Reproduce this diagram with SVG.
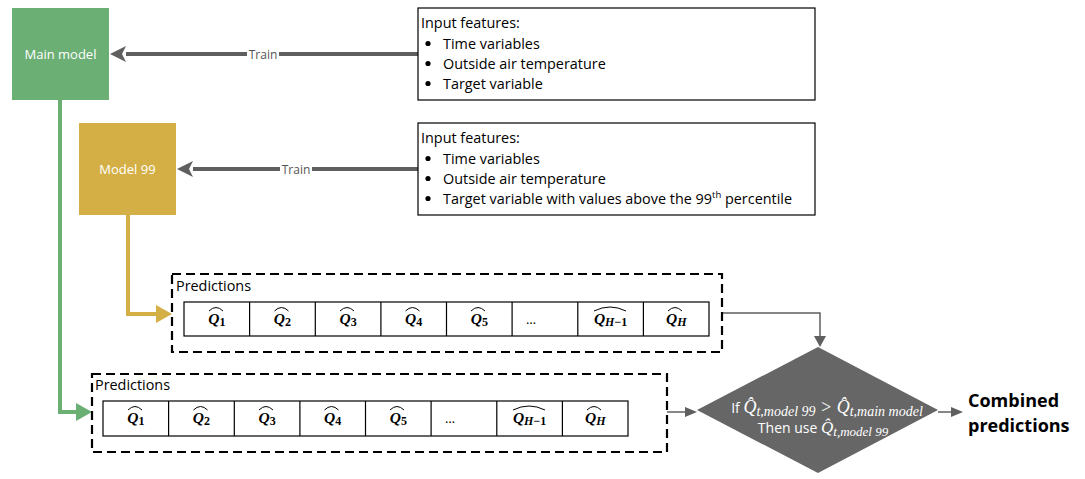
<svg xmlns="http://www.w3.org/2000/svg" width="1085" height="479" viewBox="0 0 1085 479">
<style>
.lbl{font-family:"Open Sans","Liberation Sans",sans-serif;font-size:14.4px;fill:#000}
.wt{font-family:"Open Sans","Liberation Sans",sans-serif;font-size:13px;fill:#fff}
.dt{font-family:"Open Sans","Liberation Sans",sans-serif;font-size:14px;fill:#fff}
.train{font-family:"Open Sans","Liberation Sans",sans-serif;font-size:12px;fill:#555}
.q{font-family:"Liberation Serif","DejaVu Serif",serif;font-style:italic;font-weight:bold;font-size:15.5px;fill:#000}
.qs{font-size:12px}
.dots{font-family:"Open Sans","Liberation Sans",sans-serif;font-size:13px;fill:#000}
.mq{font-family:"Liberation Serif","DejaVu Serif",serif;font-style:italic;font-size:17px;fill:#fff}
.ms{font-size:13px}
.mq1{font-family:"Liberation Serif","DejaVu Serif",serif;font-style:italic;font-size:18px;fill:#fff}
.ms1{font-size:14px}
.box{fill:#fff;stroke:#000;stroke-width:1.2}
.dash{fill:none;stroke:#000;stroke-width:2.2;stroke-dasharray:9 5}
.cell{fill:#fff;stroke:#000;stroke-width:1.2}
.hat{fill:none;stroke:#000;stroke-width:1}
.thick{fill:none;stroke:#5f5f5f;stroke-width:4}
.thin{fill:none;stroke:#5f5f5f;stroke-width:1.5}
</style>

<g id="connectors">
  <line class="thick" x1="418" y1="54" x2="126" y2="54"/>
  <polygon points="110,54 126,46 122,54 126,62" fill="#5f5f5f"/>
  <rect x="247" y="46" width="32" height="16" fill="#fff"/>
  <text class="train" x="263" y="58.5" text-anchor="middle">Train</text>

  <line class="thick" x1="418" y1="169" x2="193" y2="169"/>
  <polygon points="177,169 193,161 189,169 193,177" fill="#5f5f5f"/>
  <rect x="280" y="161" width="32" height="16" fill="#fff"/>
  <text class="train" x="296" y="173.5" text-anchor="middle">Train</text>

  <polyline points="128,215 128,314 158,314" fill="none" stroke="#d4af45" stroke-width="4"/>
  <polygon points="172,314 156,305 156,323" fill="#d4af45"/>

  <polyline points="60,100 60,412 78,412" fill="none" stroke="#6caf74" stroke-width="4"/>
  <polygon points="92,412 76,403 76,421" fill="#6caf74"/>

  <polyline class="thin" points="722,313 820,313 820,337"/>
  <polygon points="820,347 814,336 826,336" fill="#5f5f5f"/>

  <line class="thin" x1="667" y1="412" x2="685" y2="412"/>
  <polygon points="697,412 685,407 685,417" fill="#5f5f5f"/>

  <line class="thin" x1="938" y1="412" x2="952" y2="412"/>
  <polygon points="963,412 951,407 951,417" fill="#5f5f5f"/>
</g>

<g id="main-model">
  <rect x="12" y="8" width="97" height="92" fill="#6caf74"/>
  <text class="wt" x="60.5" y="58.5" text-anchor="middle">Main model</text>
</g>

<g id="model-99">
  <rect x="79" y="123" width="97" height="92" fill="#d4af45"/>
  <text class="wt" x="127.5" y="173.5" text-anchor="middle">Model 99</text>
</g>

<g id="input-1">
  <rect class="box" x="418" y="8" width="397" height="92"/>
  <text class="lbl" x="421" y="28">Input features:</text>
  <circle cx="428" cy="43.5" r="2.6"/>
  <circle cx="428" cy="63.5" r="2.6"/>
  <circle cx="428" cy="83.5" r="2.6"/>
  <text class="lbl" x="443" y="48.5">Time variables</text>
  <text class="lbl" x="443" y="68.5">Outside air temperature</text>
  <text class="lbl" x="443" y="88.5">Target variable</text>
</g>

<g id="input-2">
  <rect class="box" x="418" y="123" width="397" height="92"/>
  <text class="lbl" x="421" y="143">Input features:</text>
  <circle cx="428" cy="158.5" r="2.6"/>
  <circle cx="428" cy="178.5" r="2.6"/>
  <circle cx="428" cy="198.5" r="2.6"/>
  <text class="lbl" x="443" y="163.5">Time variables</text>
  <text class="lbl" x="443" y="183.5">Outside air temperature</text>
  <text class="lbl" x="443" y="203.5">Target variable with values above the 99<tspan font-size="9.5" dy="-6">th</tspan><tspan dy="6"> percentile</tspan></text>
</g>

<g id="predictions-99">
  <rect class="dash" x="172" y="274" width="550" height="78"/>
  <text class="lbl" x="176" y="291">Predictions</text>
  <rect class="cell" x="184" y="302" width="525" height="34"/>
  <path d="M249.6,302V336M315.3,302V336M380.9,302V336M446.5,302V336M512.1,302V336M577.8,302V336M643.4,302V336" stroke="#000" stroke-width="1.2"/>
  <text class="q" x="216.8" y="324" text-anchor="middle">Q<tspan class="qs" dy="2" font-style="normal">1</tspan></text>
  <text class="q" x="282.4" y="324" text-anchor="middle">Q<tspan class="qs" dy="2" font-style="normal">2</tspan></text>
  <text class="q" x="348.1" y="324" text-anchor="middle">Q<tspan class="qs" dy="2" font-style="normal">3</tspan></text>
  <text class="q" x="413.7" y="324" text-anchor="middle">Q<tspan class="qs" dy="2" font-style="normal">4</tspan></text>
  <text class="q" x="479.3" y="324" text-anchor="middle">Q<tspan class="qs" dy="2" font-style="normal">5</tspan></text>
  <text class="dots" x="526" y="324">…</text>
  <text class="q" x="610.6" y="324" text-anchor="middle">Q<tspan class="qs" dy="2">H</tspan><tspan class="qs" font-style="normal">−1</tspan></text>
  <text class="q" x="676.2" y="324" text-anchor="middle">Q<tspan class="qs" dy="2">H</tspan></text>
  <path class="hat" d="M209,311 Q216,304 223,311M274.5,311 Q281.5,304 288.5,311M340,311 Q347,304 354,311M405.5,311 Q412.5,304 419.5,311M471,311 Q478,304 485,311M594,311 Q610,303 626,311M668,311 Q675,304 682,311"/>
</g>

<g id="predictions-main">
  <rect class="dash" x="92" y="374" width="575" height="78"/>
  <text class="lbl" x="95" y="390">Predictions</text>
  <rect class="cell" x="103" y="401" width="525" height="35"/>
  <path d="M168.6,401V436M234.3,401V436M299.9,401V436M365.5,401V436M431.1,401V436M496.8,401V436M562.4,401V436" stroke="#000" stroke-width="1.2"/>
  <text class="q" x="135.8" y="423" text-anchor="middle">Q<tspan class="qs" dy="2" font-style="normal">1</tspan></text>
  <text class="q" x="201.4" y="423" text-anchor="middle">Q<tspan class="qs" dy="2" font-style="normal">2</tspan></text>
  <text class="q" x="267.1" y="423" text-anchor="middle">Q<tspan class="qs" dy="2" font-style="normal">3</tspan></text>
  <text class="q" x="332.7" y="423" text-anchor="middle">Q<tspan class="qs" dy="2" font-style="normal">4</tspan></text>
  <text class="q" x="398.3" y="423" text-anchor="middle">Q<tspan class="qs" dy="2" font-style="normal">5</tspan></text>
  <text class="dots" x="445" y="423">…</text>
  <text class="q" x="529.6" y="423" text-anchor="middle">Q<tspan class="qs" dy="2">H</tspan><tspan class="qs" font-style="normal">−1</tspan></text>
  <text class="q" x="595.2" y="423" text-anchor="middle">Q<tspan class="qs" dy="2">H</tspan></text>
  <path class="hat" d="M128,410 Q135,403 142,410M193.5,410 Q200.5,403 207.5,410M259,410 Q266,403 273,410M324.5,410 Q331.5,403 338.5,410M390,410 Q397,403 404,410M513,410 Q529,402 545,410M587,410 Q594,403 601,410"/>
</g>

<g id="decision">
  <polygon points="818,347 938,410 818,473 697,410" fill="#666"/>
  <text class="dt" x="827" y="413" text-anchor="middle">If <tspan class="mq1">Q̂</tspan><tspan class="mq1 ms1" dy="3">t,model </tspan><tspan class="mq1 ms1" font-style="normal">99</tspan><tspan class="mq1" dy="-3" font-style="normal"> &gt; </tspan><tspan class="mq1">Q̂</tspan><tspan class="mq1 ms1" dy="3">t,main model</tspan></text>
  <text class="dt" x="823" y="433" text-anchor="middle">Then use <tspan class="mq">Q̂</tspan><tspan class="mq ms" dy="3">t,model </tspan><tspan class="mq ms" font-style="normal">99</tspan></text>
</g>

<g id="combined">
  <text x="968" y="407" font-family="Open Sans,Liberation Sans,sans-serif" font-weight="bold" font-size="18" fill="#000">Combined</text>
  <text x="968" y="432" font-family="Open Sans,Liberation Sans,sans-serif" font-weight="bold" font-size="18" fill="#000">predictions</text>
</g>
</svg>
